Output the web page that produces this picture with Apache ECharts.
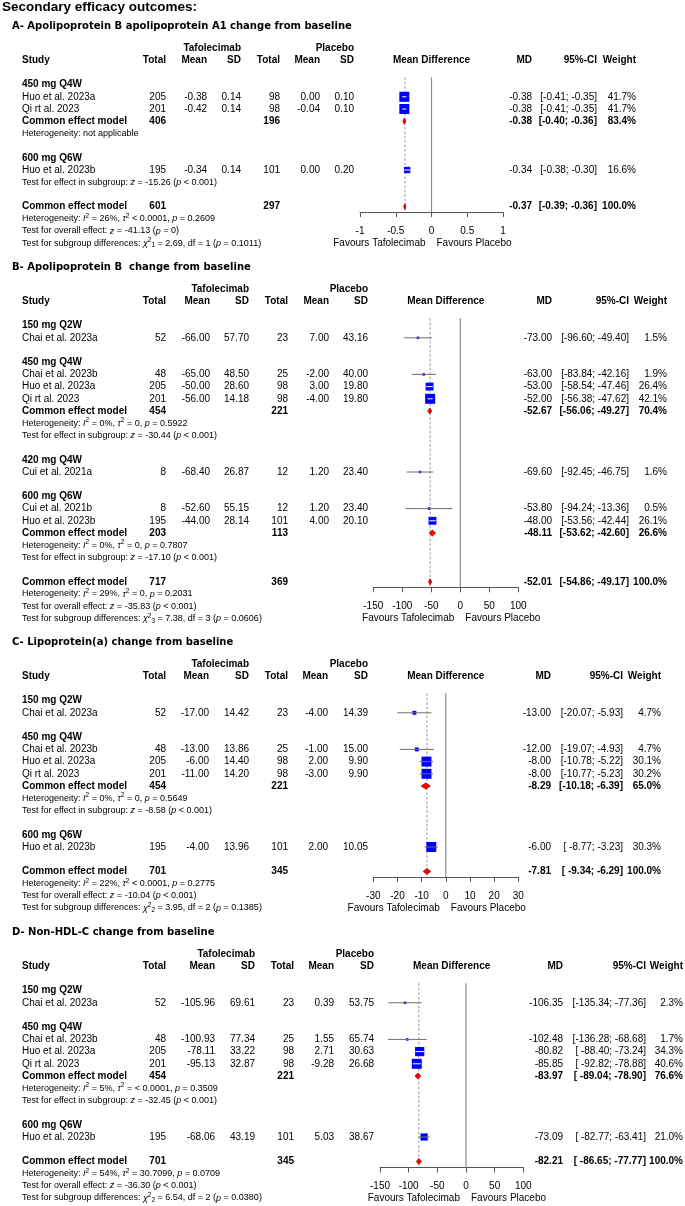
<!DOCTYPE html>
<html><head><meta charset="utf-8">
<script src="https://cdn.jsdelivr.net/npm/echarts@6/dist/echarts.min.js"></script>
<style>html,body{margin:0;padding:0;background:#fff}#c{width:685px;height:1206px}</style>
</head><body><div id="c"></div>
<script>
// ================= DATA =================
const mainTitle = 'Secondary efficacy outcomes:';
const panelTitles = [
  'A- Apolipoprotein B apolipoprotein A1 change from baseline',
  'B- Apolipoprotein B  change from baseline',
  'C- Lipoprotein(a) change from baseline',
  'D- Non-HDL-C change from baseline'
];
const groupHeaders = ['Tafolecimab', 'Placebo'];
const colHeaders = ['Study', 'Total', 'Mean', 'SD', 'Total', 'Mean', 'SD', 'Mean Difference', 'MD', '95%-CI', 'Weight'];
const favoursLabels = ['Favours Tafolecimab', 'Favours Placebo'];
const commonLabel = 'Common effect model';

// row kinds: sub | study(name, nT, meanT, sdT, nP, meanP, sdP, md, lo, hi, weight) | common(nT, nP, md, lo, hi, weight) | note | blank
const rowsA = [
  ['sub', '450 mg Q4W'],
  ['study', 'Huo et al. 2023a', 205, -0.38, 0.14, 98, 0.00, 0.10, -0.38, -0.41, -0.35, 41.7],
  ['study', 'Qi rt al. 2023', 201, -0.42, 0.14, 98, -0.04, 0.10, -0.38, -0.41, -0.35, 41.7],
  ['common', 406, 196, -0.38, -0.40, -0.36, 83.4],
  ['note', 'Heterogeneity: not applicable'],
  ['blank'],
  ['sub', '600 mg Q6W'],
  ['study', 'Huo et al. 2023b', 195, -0.34, 0.14, 101, 0.00, 0.20, -0.34, -0.38, -0.30, 16.6],
  ['note', 'Test for effect in subgroup: {i|z} = -15.26 ({i|p} < 0.001)'],
  ['blank'],
  ['common', 601, 297, -0.37, -0.39, -0.36, 100.0],
  ['note', 'Heterogeneity: {i|I}{s|2} = 26%, {i|τ}{s|2} < 0.0001, {i|p} = 0.2609'],
  ['note', 'Test for overall effect: {i|z} = -41.13 ({i|p} = 0)'],
  ['note', 'Test for subgroup differences: {i|χ}{s|2}{b|1} = 2.69, df = 1 ({i|p} = 0.1011)']
];
const rowsB = [
  ['sub', '150 mg Q2W'],
  ['study', 'Chai et al. 2023a', 52, -66.00, 57.70, 23, 7.00, 43.16, -73.00, -96.60, -49.40, 1.5],
  ['blank'],
  ['sub', '450 mg Q4W'],
  ['study', 'Chai et al. 2023b', 48, -65.00, 48.50, 25, -2.00, 40.00, -63.00, -83.84, -42.16, 1.9],
  ['study', 'Huo et al. 2023a', 205, -50.00, 28.60, 98, 3.00, 19.80, -53.00, -58.54, -47.46, 26.4],
  ['study', 'Qi rt al. 2023', 201, -56.00, 14.18, 98, -4.00, 19.80, -52.00, -56.38, -47.62, 42.1],
  ['common', 454, 221, -52.67, -56.06, -49.27, 70.4],
  ['note', 'Heterogeneity: {i|I}{s|2} = 0%, {i|τ}{s|2} = 0, {i|p} = 0.5922'],
  ['note', 'Test for effect in subgroup: {i|z} = -30.44 ({i|p} < 0.001)'],
  ['blank'],
  ['sub', '420 mg Q4W'],
  ['study', 'Cui et al. 2021a', 8, -68.40, 26.87, 12, 1.20, 23.40, -69.60, -92.45, -46.75, 1.6],
  ['blank'],
  ['sub', '600 mg Q6W'],
  ['study', 'Cui et al. 2021b', 8, -52.60, 55.15, 12, 1.20, 23.40, -53.80, -94.24, -13.36, 0.5],
  ['study', 'Huo et al. 2023b', 195, -44.00, 28.14, 101, 4.00, 20.10, -48.00, -53.56, -42.44, 26.1],
  ['common', 203, 113, -48.11, -53.62, -42.60, 26.6],
  ['note', 'Heterogeneity: {i|I}{s|2} = 0%, {i|τ}{s|2} = 0, {i|p} = 0.7807'],
  ['note', 'Test for effect in subgroup: {i|z} = -17.10 ({i|p} < 0.001)'],
  ['blank'],
  ['common', 717, 369, -52.01, -54.86, -49.17, 100.0],
  ['note', 'Heterogeneity: {i|I}{s|2} = 29%, {i|τ}{s|2} = 0, {i|p} = 0.2031'],
  ['note', 'Test for overall effect: {i|z} = -35.83 ({i|p} < 0.001)'],
  ['note', 'Test for subgroup differences: {i|χ}{s|2}{b|3} = 7.38, df = 3 ({i|p} = 0.0606)']
];
const rowsC = [
  ['sub', '150 mg Q2W'],
  ['study', 'Chai et al. 2023a', 52, -17.00, 14.42, 23, -4.00, 14.39, -13.00, -20.07, -5.93, 4.7],
  ['blank'],
  ['sub', '450 mg Q4W'],
  ['study', 'Chai et al. 2023b', 48, -13.00, 13.86, 25, -1.00, 15.00, -12.00, -19.07, -4.93, 4.7],
  ['study', 'Huo et al. 2023a', 205, -6.00, 14.40, 98, 2.00, 9.90, -8.00, -10.78, -5.22, 30.1],
  ['study', 'Qi rt al. 2023', 201, -11.00, 14.20, 98, -3.00, 9.90, -8.00, -10.77, -5.23, 30.2],
  ['common', 454, 221, -8.29, -10.18, -6.39, 65.0],
  ['note', 'Heterogeneity: {i|I}{s|2} = 0%, {i|τ}{s|2} = 0, {i|p} = 0.5649'],
  ['note', 'Test for effect in subgroup: {i|z} = -8.58 ({i|p} < 0.001)'],
  ['blank'],
  ['sub', '600 mg Q6W'],
  ['study', 'Huo et al. 2023b', 195, -4.00, 13.96, 101, 2.00, 10.05, -6.00, -8.77, -3.23, 30.3],
  ['blank'],
  ['common', 701, 345, -7.81, -9.34, -6.29, 100.0],
  ['note', 'Heterogeneity: {i|I}{s|2} = 22%, {i|τ}{s|2} < 0.0001, {i|p} = 0.2775'],
  ['note', 'Test for overall effect: {i|z} = -10.04 ({i|p} < 0.001)'],
  ['note', 'Test for subgroup differences: {i|χ}{s|2}{b|2} = 3.95, df = 2 ({i|p} = 0.1385)']
];
const rowsD = [
  ['sub', '150 mg Q2W'],
  ['study', 'Chai et al. 2023a', 52, -105.96, 69.61, 23, 0.39, 53.75, -106.35, -135.34, -77.36, 2.3],
  ['blank'],
  ['sub', '450 mg Q4W'],
  ['study', 'Chai et al. 2023b', 48, -100.93, 77.34, 25, 1.55, 65.74, -102.48, -136.28, -68.68, 1.7],
  ['study', 'Huo et al. 2023a', 205, -78.11, 33.22, 98, 2.71, 30.63, -80.82, -88.40, -73.24, 34.3],
  ['study', 'Qi rt al. 2023', 201, -95.13, 32.87, 98, -9.28, 26.68, -85.85, -92.82, -78.88, 40.6],
  ['common', 454, 221, -83.97, -89.04, -78.90, 76.6],
  ['note', 'Heterogeneity: {i|I}{s|2} = 5%, {i|τ}{s|2} = < 0.0001, {i|p} = 0.3509'],
  ['note', 'Test for effect in subgroup: {i|z} = -32.45 ({i|p} < 0.001)'],
  ['blank'],
  ['sub', '600 mg Q6W'],
  ['study', 'Huo et al. 2023b', 195, -68.06, 43.19, 101, 5.03, 38.67, -73.09, -82.77, -63.41, 21.0],
  ['blank'],
  ['common', 701, 345, -82.21, -86.65, -77.77, 100.0],
  ['note', 'Heterogeneity: {i|I}{s|2} = 54%, {i|τ}{s|2} = 30.7099, {i|p} = 0.0709'],
  ['note', 'Test for overall effect: {i|z} = -36.30 ({i|p} < 0.001)'],
  ['note', 'Test for subgroup differences: {i|χ}{s|2}{b|2} = 6.54, df = 2 ({i|p} = 0.0380)']
];
const ticksA = [-1, -0.5, 0, 0.5, 1];
const ticksB = [-150, -100, -50, 0, 50, 100];
const ticksC = [-30, -20, -10, 0, 10, 20, 30];
const ticksD = [-150, -100, -50, 0, 50, 100];

// ================= LAYOUT =================
const FONT = '"Liberation Sans", Arial, Helvetica, sans-serif';
const TITLE_FONT = '"DejaVu Sans", Verdana, sans-serif';
const PITCH = 12.2;
const FOREST_TOP_ROW = 2.4;
const panels = [
  { rows: rowsA, ticks: ticksA, top: 48, axisRow: 13.45, cols: [22, 166, 207, 241, 280, 320, 354, 532, 597, 636], forest: [360, 503] },
  { rows: rowsB, ticks: ticksB, top: 289, axisRow: 24.45, cols: [22, 166, 210, 249, 288, 329, 368, 552, 629, 667], forest: [373.3, 518.3] },
  { rows: rowsC, ticks: ticksC, top: 664, axisRow: 17.45, cols: [22, 166, 209, 249, 288, 328, 368, 551, 623, 661], forest: [373.3, 518.3] },
  { rows: rowsD, ticks: ticksD, top: 954, axisRow: 17.5, cols: [22, 166, 215, 255, 294, 334, 374, 563, 646, 683], forest: [380, 523.3] }
];

const RICH = {
  i: { fontStyle: 'italic', fontSize: 9, fontFamily: FONT, lineHeight: 12, fill: '#000', textFill: '#000', color: '#000' },
  s: { fontSize: 6.5, fontFamily: FONT, verticalAlign: 'top', textVerticalAlign: 'top', lineHeight: 8, fill: '#000', textFill: '#000', color: '#000' },
  b: { fontSize: 6.5, fontFamily: FONT, verticalAlign: 'bottom', textVerticalAlign: 'bottom', lineHeight: 8, fill: '#000', textFill: '#000', color: '#000' }
};

function txt(text, x, y, align, o) {
  o = o || {};
  const st = {
    text: String(text), x: x, y: y, fill: '#000', textFill: '#000',
    fontSize: o.size || 10, fontFamily: FONT, fontWeight: o.bold ? 'bold' : 'normal',
    align: align, textAlign: align, verticalAlign: 'middle', textVerticalAlign: 'middle'
  };
  if (o.rich) { st.rich = RICH; st.lineHeight = 12; }
  return { type: 'text', style: st, silent: true };
}

const f2 = v => v.toFixed(2);

const grids = [], xAxes = [], yAxes = [], series = [];

panels.forEach((P, k) => {
  const rows = [['hdr1'], ['hdr2'], ['blank']].concat(P.rows);
  const nRows = rows.length;
  const studies = [], diamonds = [];
  let loLen = 0, hiLen = 0, wmax = 0, overallMD = 0;
  rows.forEach((r, i) => {
    if (r[0] === 'study') {
      studies.push([r[8], i, r[9], r[10], r[11]]);
      loLen = Math.max(loLen, f2(r[9]).length); hiLen = Math.max(hiLen, f2(r[10]).length);
      wmax = Math.max(wmax, r[11]);
    } else if (r[0] === 'common') {
      diamonds.push([r[3], i, r[4], r[5]]);
      loLen = Math.max(loLen, f2(r[4]).length); hiLen = Math.max(hiLen, f2(r[5]).length);
      overallMD = r[3];
    }
  });
  const ci = (lo, hi) => '[' + f2(lo).padStart(loLen, ' ') + '; ' + f2(hi).padStart(hiLen, ' ') + ']';
  const C = P.cols;
  const forestMid = (P.forest[0] + P.forest[1]) / 2;

  const gT = grids.length;
  grids.push({ left: 0, width: 685, top: P.top, height: nRows * PITCH, outerBoundsMode: 'none', containLabel: false });
  xAxes.push({ gridIndex: gT, type: 'value', min: 0, max: 685, show: false });
  yAxes.push({ gridIndex: gT, type: 'value', min: 0, max: nRows, inverse: true, show: false });

  const gF = grids.length;
  grids.push({ left: P.forest[0], width: P.forest[1] - P.forest[0], top: P.top + FOREST_TOP_ROW * PITCH,
               height: (P.axisRow - FOREST_TOP_ROW) * PITCH, outerBoundsMode: 'none', containLabel: false });
  const tmin = P.ticks[0], tmax = P.ticks[P.ticks.length - 1];
  xAxes.push({
    gridIndex: gF, type: 'value', min: tmin, max: tmax, interval: P.ticks[1] - P.ticks[0], position: 'bottom',
    axisLine: { show: true, onZero: false, lineStyle: { color: '#555', width: 1 } },
    axisTick: { show: true, length: 5, lineStyle: { color: '#555', width: 1 } },
    axisLabel: { show: true, margin: 14, fontSize: 10, color: '#000', fontFamily: FONT },
    splitLine: { show: false }
  });
  yAxes.push({ gridIndex: gF, type: 'value', min: FOREST_TOP_ROW, max: P.axisRow, inverse: true, show: false });

  // ---- table text
  series.push({
    type: 'custom', xAxisIndex: gT, yAxisIndex: gT, clip: false, silent: true, z: 5,
    data: rows.map((r, i) => [i, i]),
    renderItem: (params, api) => {
      const i = api.value(1);
      const r = rows[i];
      const y = api.coord([0, i])[1];
      const X = v => api.coord([v, i])[0];
      const ch = [];
      if (r[0] === 'hdr1') {
        ch.push(txt(groupHeaders[0], X(C[3]), y, 'right', { bold: true }));
        ch.push(txt(groupHeaders[1], X(C[6]), y, 'right', { bold: true }));
      } else if (r[0] === 'hdr2') {
        ch.push(txt(colHeaders[0], X(C[0]), y, 'left', { bold: true }));
        for (let c = 1; c <= 6; c++) ch.push(txt(colHeaders[c], X(C[c]), y, 'right', { bold: true }));
        ch.push(txt(colHeaders[7], X(forestMid), y, 'center', { bold: true }));
        ch.push(txt(colHeaders[8], X(C[7]), y, 'right', { bold: true }));
        ch.push(txt(colHeaders[9], X(C[8]), y, 'right', { bold: true }));
        ch.push(txt(colHeaders[10], X(C[9]), y, 'right', { bold: true }));
      } else if (r[0] === 'sub') {
        ch.push(txt(r[1], X(C[0]), y, 'left', { bold: true }));
      } else if (r[0] === 'study') {
        ch.push(txt(r[1], X(C[0]), y, 'left'));
        ch.push(txt(r[2], X(C[1]), y, 'right'));
        ch.push(txt(f2(r[3]), X(C[2]), y, 'right'));
        ch.push(txt(f2(r[4]), X(C[3]), y, 'right'));
        ch.push(txt(r[5], X(C[4]), y, 'right'));
        ch.push(txt(f2(r[6]), X(C[5]), y, 'right'));
        ch.push(txt(f2(r[7]), X(C[6]), y, 'right'));
        ch.push(txt(f2(r[8]), X(C[7]), y, 'right'));
        ch.push(txt(ci(r[9], r[10]), X(C[8]), y, 'right'));
        ch.push(txt(r[11].toFixed(1) + '%', X(C[9]), y, 'right'));
      } else if (r[0] === 'common') {
        ch.push(txt(commonLabel, X(C[0]), y, 'left', { bold: true }));
        ch.push(txt(r[1], X(C[1]), y, 'right', { bold: true }));
        ch.push(txt(r[2], X(C[4]), y, 'right', { bold: true }));
        ch.push(txt(f2(r[3]), X(C[7]), y, 'right', { bold: true }));
        ch.push(txt(ci(r[4], r[5]), X(C[8]), y, 'right', { bold: true }));
        ch.push(txt(r[6].toFixed(1) + '%', X(C[9]), y, 'right', { bold: true }));
      } else if (r[0] === 'note') {
        ch.push(txt(r[1], X(C[0]), y, 'left', { size: 9, rich: true }));
      }
      return { type: 'group', children: ch };
    }
  });

  // ---- reference lines (zero solid, overall dashed)
  series.push({
    type: 'custom', xAxisIndex: gF, yAxisIndex: gF, clip: false, silent: true, z: 1,
    data: [[0, 0], [overallMD, 1]],
    renderItem: (params, api) => {
      const v = api.value(0), dashed = api.value(1) === 1;
      const a = api.coord([v, FOREST_TOP_ROW]), b = api.coord([v, P.axisRow]);
      return { type: 'line', shape: { x1: a[0], y1: a[1], x2: b[0], y2: b[1] },
        style: { stroke: dashed ? '#8a8a8a' : '#8c8c8c', lineWidth: dashed ? 0.9 : 1.2, lineDash: dashed ? [2.5, 2] : null } };
    }
  });

  // ---- studies (CI line + square)
  series.push({
    type: 'custom', xAxisIndex: gF, yAxisIndex: gF, clip: false, silent: true, z: 3,
    data: studies,
    renderItem: (params, api) => {
      const c = api.coord([api.value(0), api.value(1)]);
      const pl = api.coord([api.value(2), api.value(1)]), ph = api.coord([api.value(3), api.value(1)]);
      const side = Math.max(2.5, 10 * Math.sqrt(api.value(4) / wmax));
      const h = side / 2;
      const inside = pl[0] >= c[0] - h && ph[0] <= c[0] + h;
      return { type: 'group', children: [
        { type: 'rect', shape: { x: c[0] - h, y: c[1] - h, width: side, height: side }, style: { fill: '#0000ff' } },
        { type: 'line', shape: { x1: pl[0], y1: c[1], x2: ph[0], y2: c[1] },
          style: { stroke: inside ? '#ffffff' : '#6e6e6e', lineWidth: 1 } }
      ] };
    }
  });

  // ---- diamonds
  series.push({
    type: 'custom', xAxisIndex: gF, yAxisIndex: gF, clip: false, silent: true, z: 4,
    data: diamonds,
    renderItem: (params, api) => {
      const r = api.value(1);
      const c = api.coord([api.value(0), r]);
      const pl = api.coord([api.value(2), r]), ph = api.coord([api.value(3), r]);
      const hh = 3;
      return { type: 'polygon', shape: { points: [[pl[0], c[1]], [c[0], c[1] - hh], [ph[0], c[1]], [c[0], c[1] + hh]] },
        style: { fill: '#ff0000', stroke: '#b00000', lineWidth: 0.8 } };
    }
  });

  // ---- favours labels
  series.push({
    type: 'custom', xAxisIndex: gF, yAxisIndex: gF, clip: false, silent: true, z: 5,
    data: [[0, P.axisRow]],
    renderItem: (params, api) => {
      const p = api.coord([api.value(0), api.value(1)]);
      return { type: 'group', children: [
        txt(favoursLabels[0], p[0] - 6, p[1] + 31, 'right'),
        txt(favoursLabels[1], p[0] + 5, p[1] + 31, 'left')
      ] };
    }
  });
});

const titles = [{ text: mainTitle, left: 2, top: 0, padding: 0,
  textStyle: { fontSize: 13.5, fontWeight: 'bold', fontFamily: FONT, color: '#000' } }];
panels.forEach((P, k) => {
  titles.push({ text: panelTitles[k], left: 12, top: P.top - 27, padding: 0,
    textStyle: { fontSize: 10, fontWeight: 'bold', fontFamily: TITLE_FONT, color: '#000' } });
});

const chart = echarts.init(document.getElementById('c'), null, { renderer: 'canvas' });
chart.setOption({
  backgroundColor: '#ffffff',
  animation: false,
  title: titles,
  grid: grids,
  xAxis: xAxes,
  yAxis: yAxes,
  series: series
});
</script>
</body></html>
